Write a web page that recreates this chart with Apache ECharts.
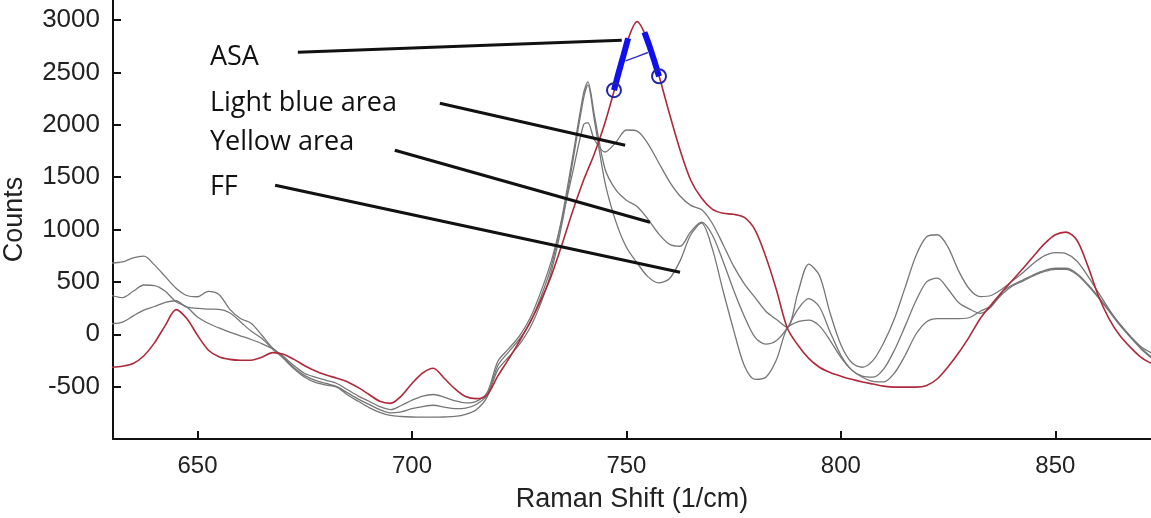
<!DOCTYPE html>
<html>
<head>
<meta charset="utf-8">
<title>Raman spectra</title>
<script src="https://cdn.jsdelivr.net/npm/echarts@6/dist/echarts.min.js"></script>
<style>
  html, body { margin: 0; padding: 0; background: #ffffff; }
  #chart { width: 1151px; height: 518px; }
</style>
</head>
<body>
<div id="chart"></div>
<script>
// Raman shift positions (1/cm) shared by every spectrum
const shift = [
  630, 632.5, 635, 637.5, 640, 642.5, 645, 647.5, 650, 652.5,
  655, 657.5, 660, 662.5, 665, 667.5, 670, 672.5, 675, 677.5,
  680, 682.5, 685, 687.5, 690, 692.5, 695, 697.5, 700, 702.5,
  705, 707.5, 710, 712.5, 715, 717.5, 720, 722.5, 725, 727.5,
  730, 732.5, 735, 737.5, 740, 741, 742.5, 745, 747.5, 750,
  752.5, 755, 757.5, 760, 762.5, 765, 767.5, 770, 772.5, 775,
  777.5, 780, 782.5, 785, 787.5, 790, 792.5, 795, 797.5, 800,
  802.5, 805, 807.5, 810, 812.5, 815, 817.5, 820, 822.5, 825,
  827.5, 830, 832.5, 835, 837.5, 840, 842.5, 845, 847.5, 850,
  852.5, 855, 857.5, 860, 862.5, 865, 867.5, 870, 872.5
];

// ASA reference spectrum (counts)
const asa = [
  -315, -305, -280, -205, -80, 85, 235, 150, -10, -150,
  -215, -240, -248, -248, -220, -175, -190, -240, -300, -350,
  -390, -420, -455, -510, -575, -640, -660, -590, -470, -370,
  -325, -420, -520, -595, -615, -580, -400, -240, -70, 110,
  320, 560, 860, 1180, 1470, 1570, 1720, 2020, 2380, 2770,
  2985, 2800, 2480, 2110, 1760, 1470, 1300, 1195, 1155, 1145,
  1115, 995, 740, 420, 60, -105, -230, -315, -365, -400,
  -430, -455, -475, -495, -505, -505, -505, -490, -425, -310,
  -175, -20, 150, 280, 400, 515, 630, 750, 865, 950,
  975, 900, 660, 370, 150, -10, -125, -220, -280
];

// Light blue area spectrum (counts)
const lightBlue = [
  680, 690, 730, 745, 660, 550, 440, 370, 358, 410,
  380, 240, 150, 105, -10, -130, -210, -300, -375, -410,
  -440, -470, -530, -590, -640, -690, -720, -680, -630, -590,
  -575, -600, -635, -655, -640, -560, -260, -140, -20, 150,
  400, 700, 1100, 1550, 2000, 2020, 1860, 1740, 1830, 1950,
  1940, 1820, 1640, 1460, 1320, 1230, 1190, 1060, 860, 650,
  480, 350, 220, 140, 65, 400, 670, 560, 200, -100,
  -270, -315, -250, -80, 150, 450, 750, 930, 950, 830,
  600, 430, 360, 370, 430, 510, 590, 680, 750, 780,
  770, 700, 560, 400, 240, 90, -20, -120, -180
];

// Yellow area spectrum (counts)
const yellow = [
  370, 350, 410, 470, 465, 410, 310, 260, 165, 105,
  60, 20, -15, -50, -90, -140, -220, -320, -395, -440,
  -470, -500, -560, -620, -670, -720, -750, -740, -710, -690,
  -678, -695, -710, -705, -670, -580, -300, -170, -50, 110,
  350, 650, 1120, 1700, 2300, 2410, 2100, 1580, 1380, 1280,
  1220, 1100, 960, 860, 840, 980, 1070, 950, 700, 420,
  170, -30, -95, -60, 60, 240, 340, 260, 20, -200,
  -340, -400, -410, -330, -150, 80, 320, 500, 535, 430,
  300, 240, 200, 260, 400, 470, 520, 570, 610, 630,
  630, 580, 480, 360, 230, 100, -20, -130, -220
];

// FF spectrum (counts)
const ff = [
  100, 115, 175, 230, 265, 305, 320, 258, 248, 240,
  238, 205, 120, 30, -40, -140, -230, -330, -410, -460,
  -485, -505, -580, -640, -700, -745, -775, -785, -790, -792,
  -792, -790, -785, -765, -720, -600, -340, -220, -100, 60,
  290, 600, 1060, 1650, 2250, 2380, 2050, 1450, 1080, 830,
  680, 550, 490, 530, 700, 950, 1060, 820, 420, 40,
  -300, -430, -410, -240, 60, 120, 135, 80, -60, -220,
  -340, -410, -450, -455, -370, -200, 0, 120, 150, 150,
  150, 160, 220, 270, 380, 460, 510, 560, 600, 620,
  620, 570, 470, 350, 220, 90, -30, -140, -230
];

// Integration band picked on the ASA peak: two flanks, a bridge, and end markers
const asaBandLeft = [[747.1, 2330], [748.2, 2500], [749.3, 2660], [750.4, 2826]];
const asaBandRight = [[754.2, 2883], [755.3, 2760], [756.5, 2610], [757.6, 2463]];
const asaBridge = [[749.8, 2610], [752.5, 2650], [755.0, 2690]];
const asaBandEnds = [[747.1, 2330], [757.6, 2463]];

// Tick labels
const xTicks = [650, 700, 750, 800, 850];
const yTicks = [-1000, -500, 0, 500, 1000, 1500, 2000, 2500, 3000];
const yLabels = [-500, 0, 500, 1000, 1500, 2000, 2500, 3000];

// Callout labels, anchored in data space
const callouts = [
  { text: 'ASA',             label: [652.9, 2645], from: [673.4, 2692], to: [748.9, 2807] },
  { text: 'Light blue area', label: [652.9, 2205], from: [706.5, 2205], to: [749.7, 1804] },
  { text: 'Yellow area',     label: [652.9, 1833], from: [696.0, 1757], to: [755.5, 1069] },
  { text: 'FF',              label: [652.9, 1403], from: [668.1, 1422], to: [762.5, 592] }
];

const pairs = (vals) => shift.map((x, i) => [x, vals[i]]);

const axisFont = "'Liberation Sans', Arial, sans-serif";
const grayLine = { color: '#767676', width: 1.3 };
const plain = (v) => String(v);

const chart = echarts.init(document.getElementById('chart'), null, { renderer: 'canvas' });

chart.setOption({
  animation: false,
  backgroundColor: '#ffffff',
  grid: { left: 113, right: 0, top: 0, bottom: 79, containLabel: false, outerBoundsMode: 'none' },
  xAxis: {
    type: 'value',
    min: 630.3,
    max: 872.3,
    name: 'Raman Shift (1/cm)',
    nameLocation: 'middle',
    nameGap: 47,
    nameTextStyle: { fontFamily: axisFont, fontSize: 27, color: '#222' },
    axisLine: { show: true, onZero: false, lineStyle: { color: '#111', width: 2 } },
    axisTick: { show: true, inside: true, length: 8, customValues: xTicks, lineStyle: { color: '#111', width: 2 } },
    axisLabel: { customValues: xTicks, formatter: plain, margin: 15, fontFamily: axisFont, fontSize: 24, color: '#222' },
    splitLine: { show: false }
  },
  yAxis: {
    type: 'value',
    min: -1000,
    max: 3191,
    name: 'Counts',
    nameLocation: 'middle',
    nameGap: 85,
    nameRotate: 90,
    nameTextStyle: { fontFamily: axisFont, fontSize: 27, color: '#222' },
    axisLine: { show: true, onZero: false, lineStyle: { color: '#111', width: 2 } },
    axisTick: { show: true, inside: true, length: 8, customValues: yTicks, lineStyle: { color: '#111', width: 2 } },
    axisLabel: { customValues: yLabels, formatter: plain, margin: 13, fontFamily: axisFont, fontSize: 26, color: '#222' },
    splitLine: { show: false }
  },
  series: [
    { name: 'Light blue area', type: 'line', data: pairs(lightBlue), showSymbol: false, smooth: 0.3, lineStyle: grayLine, z: 2 },
    { name: 'Yellow area', type: 'line', data: pairs(yellow), showSymbol: false, smooth: 0.3, lineStyle: grayLine, z: 2 },
    { name: 'FF', type: 'line', data: pairs(ff), showSymbol: false, smooth: 0.3, lineStyle: grayLine, z: 2 },
    { name: 'ASA', type: 'line', data: pairs(asa), showSymbol: false, smooth: 0.3, lineStyle: { color: '#ad2a3c', width: 1.6 }, z: 3 },
    { name: 'ASA band left', type: 'line', data: asaBandLeft, showSymbol: false, lineStyle: { color: '#1010ee', width: 6 }, z: 4 },
    { name: 'ASA band right', type: 'line', data: asaBandRight, showSymbol: false, lineStyle: { color: '#1010ee', width: 6 }, z: 4 },
    { name: 'ASA bridge', type: 'line', data: asaBridge, showSymbol: false, lineStyle: { color: '#3030c0', width: 1.5 }, z: 4 },
    { name: 'ASA band ends', type: 'scatter', data: asaBandEnds, symbol: 'circle', symbolSize: 14,
      itemStyle: { color: 'rgba(0,0,0,0)', borderColor: '#2424a8', borderWidth: 2, opacity: 1 }, z: 5 }
  ]
});

// Callout texts and leader lines, placed through the chart's own coordinate system
const graphics = [];
callouts.forEach((c) => {
  const p = chart.convertToPixel({ gridIndex: 0 }, c.label);
  const a = chart.convertToPixel({ gridIndex: 0 }, c.from);
  const b = chart.convertToPixel({ gridIndex: 0 }, c.to);
  graphics.push({
    type: 'text', x: p[0], y: p[1], z: 10,
    style: { text: c.text, fill: '#111', font: "27px 'Open Sans', 'Noto Sans', sans-serif", textVerticalAlign: 'middle', textAlign: 'left' }
  });
  graphics.push({
    type: 'line', z: 10,
    shape: { x1: a[0], y1: a[1], x2: b[0], y2: b[1] },
    style: { stroke: '#111', lineWidth: 3 }
  });
});
chart.setOption({ graphic: graphics });
</script>
</body>
</html>
